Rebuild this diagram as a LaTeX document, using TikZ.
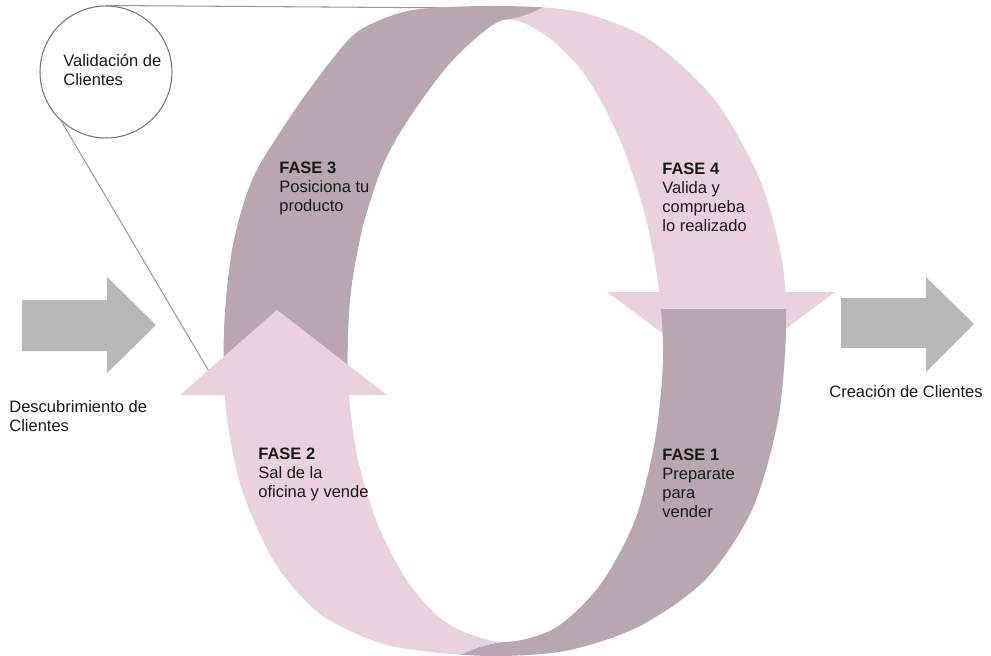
\documentclass[tikz,border=0pt]{standalone}
\usepackage{fontspec}
\setmainfont{Liberation Sans}
\definecolor{bandpink}{HTML}{E9D2DC}
\definecolor{banddark}{HTML}{B9A7AF}
\definecolor{arrowgray}{HTML}{B7B7B7}
\definecolor{linegray}{HTML}{999999}

\newcommand{\ringband}{%
  plot[smooth cycle] coordinates {(502,6) (580,12) (650,40) (715,100) (760,180) (782,260)
    (786,330) (778,420) (752,510) (705,580) (640,626) (570,650) (503,656) (440,653)
    (380,643) (320,614) (275,563) (242,490) (226,410) (224,330) (232,250) (252,180)
    (290,117) (330,62) (360,30) (413,10)}
  plot[smooth cycle] coordinates {(503,20) (545,35) (585,75) (620,140) (645,215) (659,290)
    (663,360) (655,440) (635,520) (600,585) (555,628) (503,642) (450,625) (410,585)
    (378,525) (357,455) (348,380) (350,300) (362,230) (383,165) (410,117) (453,60)}}

\begin{document}
\begin{tikzpicture}[x=0.02cm,y=-0.02cm,
  txt/.style={font=\fontsize{9.4}{10.8}\selectfont, align=left, inner sep=0pt, anchor=base west, text=black!90},
  grayarrow/.style={fill=arrowgray},
  zoomline/.style={draw=linegray, line width=0.6pt}]
\useasboundingbox (0,0) rectangle (991,656);

\fill[grayarrow] (22,300) -- (107,300) -- (107,277) -- (156,325) -- (107,373) -- (107,351) -- (22,351) -- cycle;
\fill[grayarrow] (841,298) -- (926,298) -- (926,277) -- (974,324) -- (926,372) -- (926,348) -- (841,348) -- cycle;

\node[circle, draw=black!55, line width=0.6pt, minimum size=2.64cm, inner sep=0pt] (valid) at (106,72) {};
\coordinate (zoomtop) at (470,8);
\coordinate (zoomlow) at (217,385);
\draw[zoomline] (valid.north) -- (zoomtop);
\draw[zoomline] (valid.228) -- (zoomlow);

\begin{scope}
  \clip (503,292) -- (503,20) .. controls (521,18) and (535,13) .. (565,-5) -- (565,-20) -- (900,-20) -- (900,292) -- cycle;
  \fill[bandpink, even odd rule] \ringband;
\end{scope}
\fill[bandpink] (607,292) -- (835,292) -- (721,377) -- cycle;

\begin{scope}
  \clip (503,309) -- (900,309) -- (900,720) -- (440,720) -- (440,665) .. controls (470,649) and (485,644) .. (503,642) -- cycle;
  \fill[banddark, even odd rule] \ringband;
\end{scope}

\begin{scope}
  \clip (503,372) -- (503,20) .. controls (521,18) and (535,13) .. (565,-5) -- (565,-20) -- (150,-20) -- (150,372) -- cycle;
  \fill[banddark, even odd rule] \ringband;
\end{scope}

\begin{scope}
  \clip (503,390) -- (503,642) .. controls (485,644) and (470,649) .. (440,665) -- (440,720) -- (100,720) -- (100,390) -- cycle;
  \fill[bandpink, even odd rule] \ringband;
\end{scope}
\fill[bandpink] (180,395) -- (277,310) -- (387,395) -- cycle;

\node[txt] (validtxt) at (63,85) {Validación de\\Clientes};
\node[txt] (descub) at (9,431) {Descubrimiento de\\Clientes};
\node[txt] (creacion) at (829,397) {Creación de Clientes};
\node[txt] (fase3) at (279,211) {\textbf{FASE 3}\\Posiciona tu\\producto};
\node[txt] (fase4) at (662,231) {\textbf{FASE 4}\\Valida y\\comprueba\\lo realizado};
\node[txt] (fase2) at (258,497) {\textbf{FASE 2}\\Sal de la\\oficina y vende};
\node[txt] (fase1) at (662,517) {\textbf{FASE 1}\\Preparate\\para\\vender};
\end{tikzpicture}
\end{document}
